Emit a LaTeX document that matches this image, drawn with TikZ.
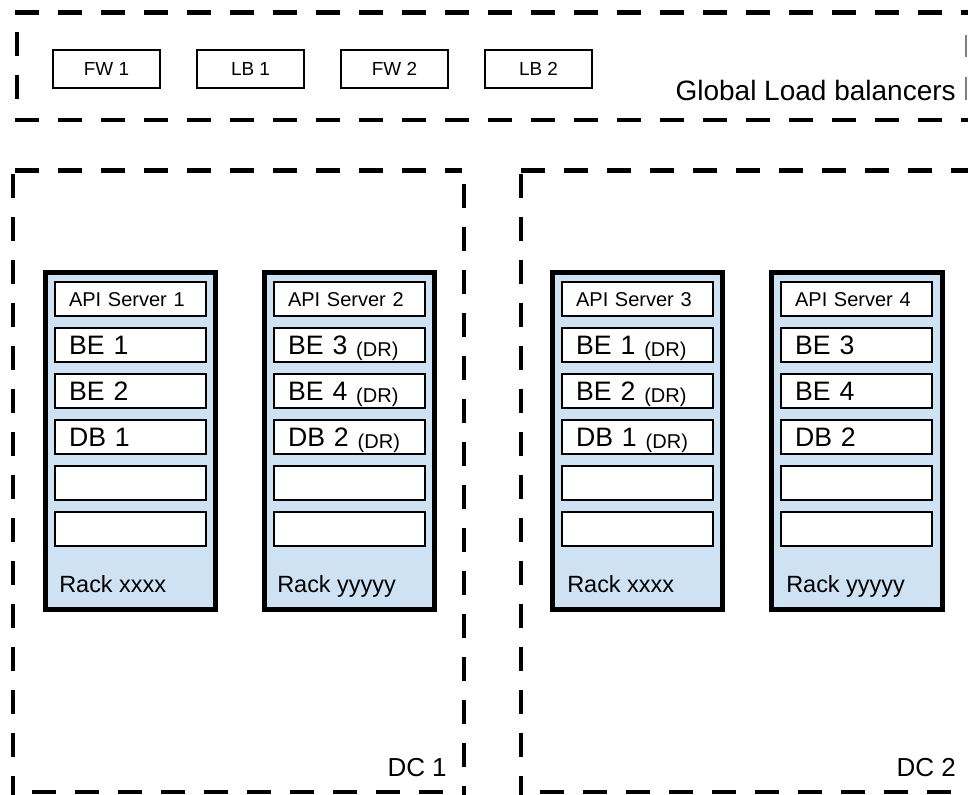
\documentclass[tikz,border=0pt]{standalone}
\usepackage{fontspec}
\setmainfont{Liberation Sans}
\definecolor{rackblue}{RGB}{207,226,243}
\newcommand{\drtag}{\raisebox{-1pt}{\fontsize{15}{18}\selectfont(DR)}}

\begin{document}
\begin{tikzpicture}[x=0.75pt,y=0.75pt,yscale=-1,
  dline/.style={line width=3.4pt, dash pattern=on 18pt off 14.25pt},
  rack/.style={draw, line width=3.75pt, fill=rackblue},
  slot/.style={draw, line width=1.6pt, fill=white, anchor=north west, minimum width=113.25pt, minimum height=25.5pt, inner xsep=10.5pt, inner ysep=0pt, text width=92.25pt, text height=14.5pt, text depth=0pt, align=left, font=\fontsize{20}{24}\selectfont},
  api/.style={slot, text height=11pt, font=\fontsize{15}{18}\selectfont},
  lbbox/.style={draw, line width=1.5pt, minimum width=80.25pt, minimum height=28.5pt, font=\fontsize{14.2}{17}\selectfont},
  racklbl/.style={anchor=base west, inner sep=0pt, font=\fontsize{17.6}{21}\selectfont},
  dclbl/.style={anchor=base east, inner sep=0pt, font=\fontsize{19.5}{23}\selectfont}]
\useasboundingbox (0,0) rectangle (968,794);
\clip (0,0) rectangle (968,794);

%Straight Lines: global load balancers frame
\draw [dline] (15,12.5) -- (990,12.5);
\draw [dline] (15,120) -- (990,120);
\draw [dline, dash phase=18pt] (17,12.5) -- (17,120);
\draw [gray, line width=0.8pt] (966,35) -- (966,57);
\draw [gray, line width=0.8pt] (966,77) -- (966,100);
%Straight Lines: DC 1 frame
\draw [dline] (15,170.5) -- (462,170.5);
\draw [dline] (13,174) -- (13,796);
\draw [dline, dash phase=22.5pt] (464,170.5) -- (464,796);
\draw [dline] (32,792) -- (466,792);
%Straight Lines: DC 2 frame
\draw [dline] (521,170.5) -- (990,170.5);
\draw [dline] (521,174) -- (521,796);
\draw [dline] (540,792) -- (990,792);

% Boxes: firewalls and load balancers
\node [lbbox] (fw1) at (106.5,69) {FW 1};
\node [lbbox] (lb1) at (250.5,69) {LB 1};
\node [lbbox] (fw2) at (394.5,69) {FW 2};
\node [lbbox] (lb2) at (538.5,69) {LB 2};
% Text Node
\node [anchor=base east, inner sep=0pt, font=\fontsize{21}{25}\selectfont] (glb) at (956,100) {Global Load balancers};

%Shape: Rectangle (racks)
\draw [rack] (45.5,272.5) rectangle (215.5,609.5);
\draw [rack] (264.5,272.5) rectangle (434.5,609.5);
\draw [rack] (552.5,272.5) rectangle (722.5,609.5);
\draw [rack] (771.5,272.5) rectangle (942.5,609.5);

% Rack xxxx (DC 1)
\node [api] (r1a) at (54,281) {API Server 1};
\node [slot] (r1b) at (54,327) {BE 1};
\node [slot] (r1c) at (54,373) {BE 2};
\node [slot] (r1d) at (54,419) {DB 1};
\node [slot] (r1e) at (54,465) {};
\node [slot] (r1f) at (54,511) {};
\node [racklbl] (r1) at (59,592) {Rack xxxx};
% Rack yyyyy (DC 1)
\node [api] (r2a) at (273,281) {API Server 2};
\node [slot] (r2b) at (273,327) {BE 3 \drtag};
\node [slot] (r2c) at (273,373) {BE 4 \drtag};
\node [slot] (r2d) at (273,419) {DB 2 \drtag};
\node [slot] (r2e) at (273,465) {};
\node [slot] (r2f) at (273,511) {};
\node [racklbl] (r2) at (277,592) {Rack yyyyy};
% Rack xxxx (DC 2)
\node [api] (r3a) at (561,281) {API Server 3};
\node [slot] (r3b) at (561,327) {BE 1 \drtag};
\node [slot] (r3c) at (561,373) {BE 2 \drtag};
\node [slot] (r3d) at (561,419) {DB 1 \drtag};
\node [slot] (r3e) at (561,465) {};
\node [slot] (r3f) at (561,511) {};
\node [racklbl] (r3) at (567,592) {Rack xxxx};
% Rack yyyyy (DC 2)
\node [api] (r4a) at (780,281) {API Server 4};
\node [slot] (r4b) at (780,327) {BE 3};
\node [slot] (r4c) at (780,373) {BE 4};
\node [slot] (r4d) at (780,419) {DB 2};
\node [slot] (r4e) at (780,465) {};
\node [slot] (r4f) at (780,511) {};
\node [racklbl] (r4) at (786,592) {Rack yyyyy};

% Text Node
\node [dclbl] (dc1) at (447,776) {DC 1};
\node [dclbl] (dc2) at (956,776) {DC 2};

\end{tikzpicture}
\end{document}
